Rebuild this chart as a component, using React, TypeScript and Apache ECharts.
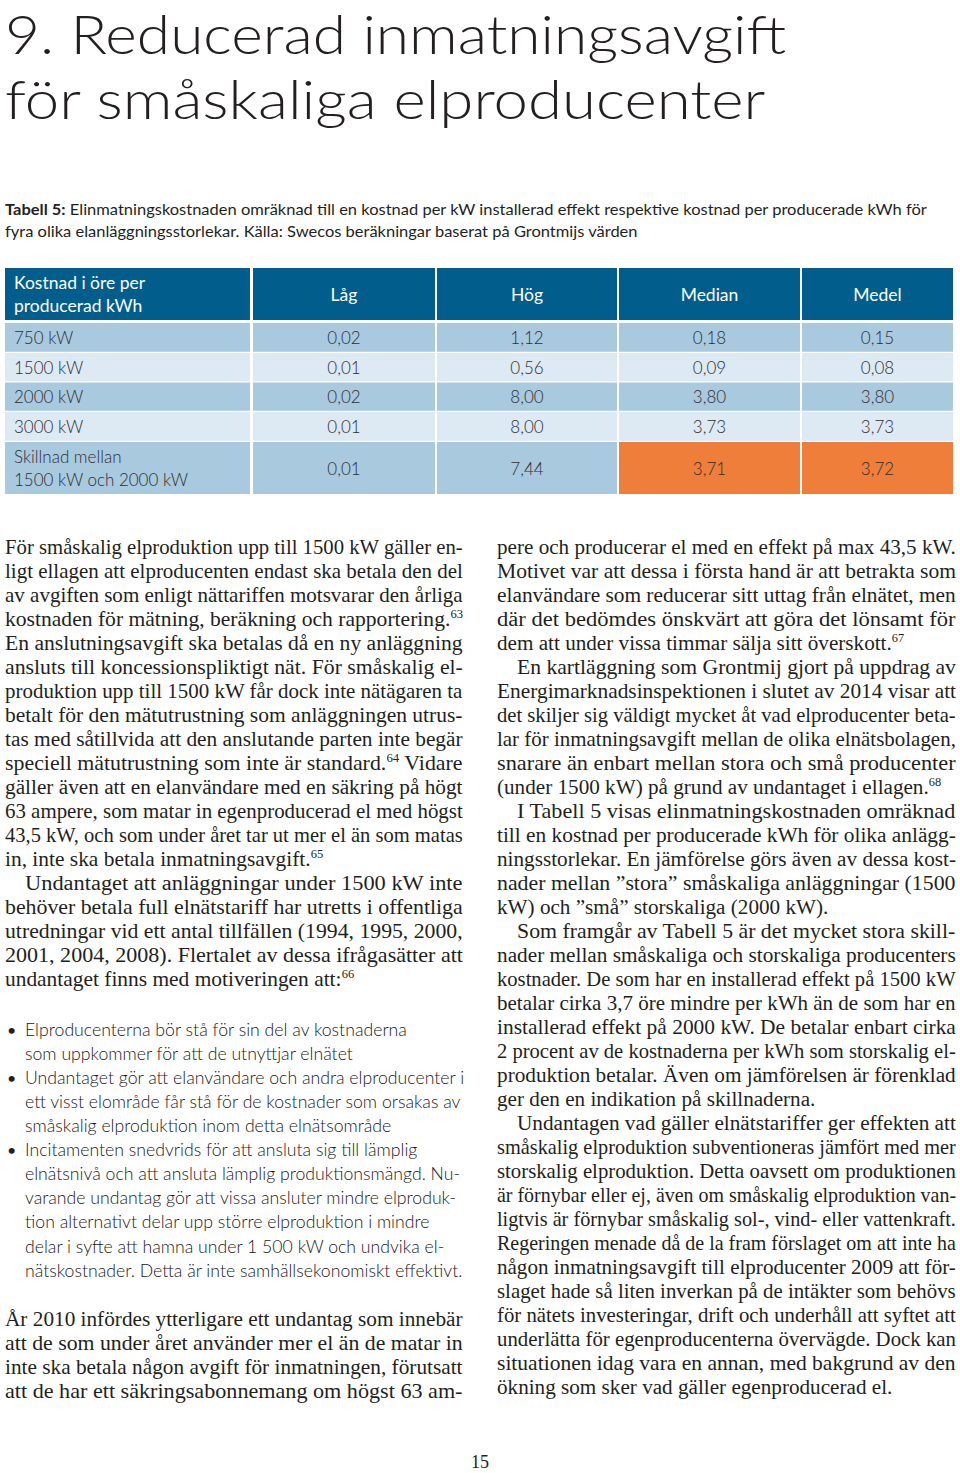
import React, { useEffect, useRef } from "react";
import * as echarts from "echarts";

// ---------- content ----------
const titleLines = ["9. Reducerad inmatningsavgift", "för småskaliga elproducenter"];
const captionLines = [
  "{b|Tabell 5:} Elinmatningskostnaden omräknad till en kostnad per kW installerad effekt respektive kostnad per producerade kWh för",
  "fyra olika elanläggningsstorlekar. Källa: Swecos beräkningar baserat på Grontmijs värden",
];

const headerLabel = "Kostnad i öre per\nproducerad kWh";
const columns = ["Låg", "Hög", "Median", "Medel"];
const rowLabels = ["750 kW", "1500 kW", "2000 kW", "3000 kW", "Skillnad mellan\n1500 kW och 2000 kW"];
const lowValues = [0.02, 0.01, 0.02, 0.01, 0.01];
const highValues = [1.12, 0.56, 8.0, 8.0, 7.44];
const medianValues = [0.18, 0.09, 3.8, 3.73, 3.71];
const meanValues = [0.15, 0.08, 3.8, 3.73, 3.72];
const highlightedCells = [
  [4, 2],
  [4, 3],
]; // [row, valueColumn]

const leftParagraphs = [
  {
    indent: false,
    lines: [
      "För småskalig elproduktion upp till 1500 kW gäller en-",
      "ligt ellagen att elproducenten endast ska betala den del",
      "av avgiften som enligt nättariffen motsvarar den årliga",
      "kostnaden för mätning, beräkning och rapportering.{s|63}",
      "En anslutningsavgift ska betalas då en ny anläggning",
      "ansluts till koncessionspliktigt nät. För småskalig el-",
      "produktion upp till 1500 kW får dock inte nätägaren ta",
      "betalt för den mätutrustning som anläggningen utrus-",
      "tas med såtillvida att den anslutande parten inte begär",
      "speciell mätutrustning som inte är standard.{s|64} Vidare",
      "gäller även att en elanvändare med en säkring på högt",
      "63 ampere, som matar in egenproducerad el med högst",
      "43,5 kW, och som under året tar ut mer el än som matas",
      "in, inte ska betala inmatningsavgift.{s|65}",
    ],
  },
  {
    indent: true,
    lines: [
      "Undantaget att anläggningar under 1500 kW inte",
      "behöver betala full elnätstariff har utretts i offentliga",
      "utredningar vid ett antal tillfällen (1994, 1995, 2000,",
      "2001, 2004, 2008). Flertalet av dessa ifrågasätter att",
      "undantaget finns med motiveringen att:{s|66}",
    ],
  },
];

const bulletLines = [
  "Elproducenterna bör stå för sin del av kostnaderna",
  "som uppkommer för att de utnyttjar elnätet",
  "Undantaget gör att elanvändare och andra elproducenter i",
  "ett visst elområde får stå för de kostnader som orsakas av",
  "småskalig elproduktion inom detta elnätsområde",
  "Incitamenten snedvrids för att ansluta sig till lämplig",
  "elnätsnivå och att ansluta lämplig produktionsmängd. Nu-",
  "varande undantag gör att vissa ansluter mindre elproduk-",
  "tion alternativt delar upp större elproduktion i mindre",
  "delar i syfte att hamna under 1 500 kW och undvika el-",
  "nätskostnader. Detta är inte samhällsekonomiskt effektivt.",
];
const bulletStarts = [0, 2, 5];

const closingParagraphs = [
  {
    indent: false,
    justifyLast: true,
    lines: [
      "År 2010 infördes ytterligare ett undantag som innebär",
      "att de som under året använder mer el än de matar in",
      "inte ska betala någon avgift för inmatningen, förutsatt",
      "att de har ett säkringsabonnemang om högst 63 am-",
    ],
  },
];

const rightParagraphs = [
  {
    indent: false,
    lines: [
      "pere och producerar el med en effekt på max 43,5 kW.",
      "Motivet var att dessa i första hand är att betrakta som",
      "elanvändare som reducerar sitt uttag från elnätet, men",
      "där det bedömdes önskvärt att göra det lönsamt för",
      "dem att under vissa timmar sälja sitt överskott.{s|67}",
    ],
  },
  {
    indent: true,
    lines: [
      "En kartläggning som Grontmij gjort på uppdrag av",
      "Energimarknadsinspektionen i slutet av 2014 visar att",
      "det skiljer sig väldigt mycket åt vad elproducenter beta-",
      "lar för inmatningsavgift mellan de olika elnätsbolagen,",
      "snarare än enbart mellan stora och små producenter",
      "(under 1500 kW) på grund av undantaget i ellagen.{s|68}",
    ],
  },
  {
    indent: true,
    lines: [
      "I Tabell 5 visas elinmatningskostnaden omräknad",
      "till en kostnad per producerade kWh för olika anlägg-",
      "ningsstorlekar. En jämförelse görs även av dessa kost-",
      "nader mellan ”stora” småskaliga anläggningar (1500",
      "kW) och ”små” storskaliga (2000 kW).",
    ],
  },
  {
    indent: true,
    lines: [
      "Som framgår av Tabell 5 är det mycket stora skill-",
      "nader mellan småskaliga och storskaliga producenters",
      "kostnader. De som har en installerad effekt på 1500 kW",
      "betalar cirka 3,7 öre mindre per kWh än de som har en",
      "installerad effekt på 2000 kW. De betalar enbart cirka",
      "2 procent av de kostnaderna per kWh som storskalig el-",
      "produktion betalar. Även om jämförelsen är förenklad",
      "ger den en indikation på skillnaderna.",
    ],
  },
  {
    indent: true,
    lines: [
      "Undantagen vad gäller elnätstariffer ger effekten att",
      "småskalig elproduktion subventioneras jämfört med mer",
      "storskalig elproduktion. Detta oavsett om produktionen",
      "är förnybar eller ej, även om småskalig elproduktion van-",
      "ligtvis är förnybar småskalig sol-, vind- eller vattenkraft.",
      "Regeringen menade då de la fram förslaget om att inte ha",
      "någon inmatningsavgift till elproducenter 2009 att för-",
      "slaget hade så liten inverkan på de intäkter som behövs",
      "för nätets investeringar, drift och underhåll att syftet att",
      "underlätta för egenproducenterna övervägde. Dock kan",
      "situationen idag vara en annan, med bakgrund av den",
      "ökning som sker vad gäller egenproducerad el.",
    ],
  },
];

const pageNumber = "15";

// ---------- styling / layout constants ----------
const SERIF = '"Liberation Serif", "Times New Roman", serif';
const SANS = 'Lato, "Open Sans", sans-serif';
const INK = "#231f20";
const HEADER_BG = "#015d8c";
const ROW_DARK = "#a9c9df";
const ROW_LIGHT = "#dde9f3";
const ORANGE = "#ef7e3b";
const CELL_TEXT = "#2e2e2e";
const colWeights = [248, 184, 182, 183, 151];
const rowWeights = [55, 30, 29.5, 29.5, 30, 52];
const INDENT = 20;

// ---------- measuring helpers ----------
let ctx: CanvasRenderingContext2D | null = null;
function mw(t: string, font: string) {
  if (!ctx) ctx = document.createElement("canvas").getContext("2d");
  ctx!.font = font;
  return ctx!.measureText(t).width;
}
function richWidth(text: string, base: string, fonts: Record<string, string>) {
  let w = 0;
  let last = 0;
  const re = /\{(\w+)\|([^}]*)\}/g;
  let m: RegExpExecArray | null;
  while ((m = re.exec(text))) {
    if (m.index > last) w += mw(text.slice(last, m.index), base);
    w += mw(m[2], fonts[m[1]]);
    last = re.lastIndex;
  }
  if (last < text.length) w += mw(text.slice(last), base);
  return w;
}

function serifBlock(paras: any[], x0: number, x1: number, base0: number, step: number, fs: number) {
  const base = `${fs}px ${SERIF}`;
  const supFs = Math.round(fs * 0.57);
  const fonts = { s: `${supFs}px ${SERIF}` };
  const items: any[] = [];
  let i = 0;
  paras.forEach((p) =>
    p.lines.forEach((ln: string, k: number) => {
      const isLast = k === p.lines.length - 1 && !p.justifyLast;
      const ind = k === 0 && p.indent ? INDENT : 0;
      items.push({
        ln,
        x: x0 + ind,
        w: richWidth(ln, base, fonts),
        target: x1 - x0 - ind,
        justify: !isLast,
        baseline: base0 + step * i,
      });
      i++;
    })
  );
  const js = items.filter((it) => it.justify).map((it) => it.target / it.w);
  const avg = js.length ? js.reduce((a, b) => a + b, 0) / js.length : 1;
  return items.map((it) => ({
    type: "text",
    x: it.x,
    y: it.baseline - 0.3375 * fs,
    scaleX: it.justify ? it.target / it.w : avg,
    silent: true,
    style: {
      text: it.ln,
      fill: INK,
      fontSize: fs,
      fontFamily: SERIF,
      lineHeight: 22,
      align: "left",
      verticalAlign: "middle",
      textAlign: "left",
      textVerticalAlign: "middle",
      rich: {
        s: { fontSize: supFs, fontFamily: SERIF, fill: INK, lineHeight: 14, verticalAlign: "top" },
      },
    },
  }));
}

function fmt(v: number) {
  return v.toFixed(2).replace(".", ",");
}

function buildOption() {
  const els: any[] = [];

  // Title
  const tFs = 54;
  const tFont = `300 ${tFs}px ${SANS}`;
  const tTargets = [781, 762];
  const tBase = [53.5, 119];
  titleLines.forEach((t, i) => {
    els.push({
      type: "text",
      x: 5,
      y: tBase[i] - 0.387 * tFs,
      scaleX: tTargets[i] / mw(t, tFont),
      silent: true,
      style: {
        text: t,
        fill: INK,
        fontSize: tFs,
        fontFamily: SANS,
        fontWeight: 300,
        lineHeight: 50,
        align: "left",
        verticalAlign: "middle",
        textAlign: "left",
        textVerticalAlign: "middle",
      },
    });
  });

  // Caption
  const cFs = 14.5;
  const cBase = `${cFs}px ${SANS}`;
  const cFonts = { b: `bold ${cFs}px ${SANS}` };
  const cScale = 923 / richWidth(captionLines[0], cBase, cFonts);
  const cBaselines = [215, 237];
  captionLines.forEach((t, i) => {
    els.push({
      type: "text",
      x: 5,
      y: cBaselines[i] - 0.387 * cFs,
      scaleX: cScale,
      silent: true,
      style: {
        text: t,
        fill: INK,
        fontSize: cFs,
        fontFamily: SANS,
        lineHeight: 18,
        align: "left",
        verticalAlign: "middle",
        textAlign: "left",
        textVerticalAlign: "middle",
        rich: { b: { fontSize: cFs, fontFamily: SANS, fontWeight: "bold", fill: INK, lineHeight: 18 } },
      },
    });
  });

  // Serif body
  const fs = 20.5;
  els.push(...serifBlock(leftParagraphs, 5, 463, 554, 24, fs));
  els.push(...serifBlock(closingParagraphs, 5, 463, 1326, 24, fs));
  els.push(...serifBlock(rightParagraphs, 497, 956, 554, 24, fs));

  // Bullets
  const bFs = 17.5;
  const bFont = `300 ${bFs}px ${SANS}`;
  const bScale = (463 - 25) / mw(bulletLines[bulletLines.length - 1], bFont);
  bulletLines.forEach((t, i) => {
    const baseline = 1036 + 24.1 * i;
    els.push({
      type: "text",
      x: 25,
      y: baseline - 0.387 * bFs,
      scaleX: bScale,
      silent: true,
      style: {
        text: t,
        fill: "#1a1718",
        fontSize: bFs,
        fontFamily: SANS,
        fontWeight: 300,
        align: "left",
        verticalAlign: "middle",
        textAlign: "left",
        textVerticalAlign: "middle",
      },
    });
    if (bulletStarts.indexOf(i) >= 0) {
      els.push({
        type: "text",
        x: 7,
        y: baseline - 0.387 * bFs,
        silent: true,
        style: {
          text: "•",
          fill: INK,
          fontSize: 16,
          fontFamily: SANS,
          align: "left",
          verticalAlign: "middle",
          textAlign: "left",
          textVerticalAlign: "middle",
        },
      });
    }
  });

  // page number
  els.push({
    type: "text",
    x: 480,
    y: 1468 - 0.3375 * 18,
    silent: true,
    style: {
      text: pageNumber,
      fill: INK,
      fontSize: 18,
      fontFamily: SERIF,
      align: "center",
      verticalAlign: "middle",
      textAlign: "center",
      textVerticalAlign: "middle",
    },
  });

  // Table cells
  const valueCols = [lowValues, highValues, medianValues, meanValues];
  const cells: number[][] = [];
  for (let r = 0; r < rowLabels.length + 1; r++) for (let c = 0; c < columns.length + 1; c++) cells.push([c, r]);
  const sumTo = (arr: number[], n: number) => arr.slice(0, n).reduce((a, b) => a + b, 0);

  const renderItem = (params: any, api: any) => {
    const c = api.value(0);
    const r = api.value(1);
    const x0 = sumTo(colWeights, c);
    const y0 = sumTo(rowWeights, r);
    const p0 = api.coord([x0, y0]);
    const p1 = api.coord([x0 + colWeights[c], y0 + rowWeights[r]]);
    const gapX = c === 0 ? 3 : c < colWeights.length - 1 ? 2 : 0;
    const gapY = r === 0 ? 3 : r < rowWeights.length - 1 ? 1.3 : 0;
    const w = p1[0] - p0[0] - gapX;
    const h = p1[1] - p0[1] - gapY;
    let fill = r === 0 ? HEADER_BG : r % 2 === 1 ? ROW_DARK : ROW_LIGHT;
    if (r > 0 && c > 0 && highlightedCells.some((hc) => hc[0] === r - 1 && hc[1] === c - 1)) fill = ORANGE;
    let text = "";
    if (r === 0) text = c === 0 ? headerLabel : columns[c - 1];
    else text = c === 0 ? rowLabels[r - 1] : fmt(valueCols[c - 1][r - 1]);
    const left = c === 0;
    return {
      type: "group",
      children: [
        { type: "rect", shape: { x: p0[0], y: p0[1], width: w, height: h }, style: { fill } },
        {
          type: "text",
          x: left ? p0[0] + 9 : p0[0] + w / 2,
          y: p0[1] + h / 2,
          style: {
            text,
            fill: r === 0 ? "#ffffff" : CELL_TEXT,
            fontSize: r === 0 ? 17.5 : 17,
            fontFamily: SANS,
            fontWeight: r === 0 ? 400 : 300,
            lineHeight: 23,
            align: left ? "left" : "center",
            verticalAlign: "middle",
            textAlign: left ? "left" : "center",
            textVerticalAlign: "middle",
          },
        },
      ],
    };
  };

  return {
    animation: false,
    backgroundColor: "#ffffff",
    grid: { left: 5, top: 268, width: 948, height: 226 },
    xAxis: { type: "value", min: 0, max: 948, show: false },
    yAxis: { type: "value", min: 0, max: 226, inverse: true, show: false },
    series: [{ type: "custom", renderItem, data: cells, clip: false, silent: true }],
    graphic: { elements: els },
  };
}

export default function App() {
  const ref = useRef<HTMLDivElement>(null);
  useEffect(() => {
    document.body.style.margin = "0";
    const chart = echarts.init(ref.current!, null, { renderer: "svg" });
    chart.setOption(buildOption() as any);
    return () => chart.dispose();
  }, []);
  return <div ref={ref} style={{ width: 960, height: 1473 }} />;
}
